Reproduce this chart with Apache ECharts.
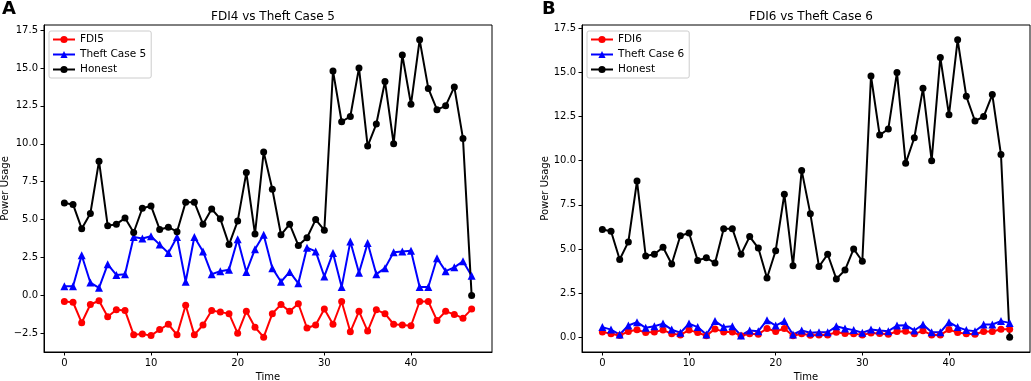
<!DOCTYPE html>
<html>
<head>
<meta charset="utf-8">
<title>FDI vs Theft Case</title>
<script src="https://cdn.jsdelivr.net/npm/echarts@6/dist/echarts.min.js"></script>
<style>
  html, body { margin: 0; padding: 0; background: #fff; }
  #chart { width: 1031px; height: 381px; }
</style>
</head>
<body>
<div id="chart"></div>
<script>
// time index 0..47
const timeSteps = [0, 1, 2, 3, 4, 5, 6, 7, 8, 9, 10, 11, 12, 13, 14, 15, 16, 17, 18, 19, 20, 21, 22, 23,
  24, 25, 26, 27, 28, 29, 30, 31, 32, 33, 34, 35, 36, 37, 38, 39, 40, 41, 42, 43, 44, 45, 46, 47]

// honest consumer (same in both panels)
const honest = [6.1, 6.0, 4.4, 5.4, 8.85, 4.6, 4.7, 5.1, 4.15, 5.75, 5.9, 4.35, 4.5, 4.2, 6.15, 6.15,
  4.7, 5.7, 5.05, 3.35, 4.9, 8.1, 4.05, 9.45, 7.0, 4.0, 4.7, 3.3, 3.8, 5.0, 4.3, 14.8,
  11.45, 11.8, 15.0, 9.85, 11.3, 14.1, 10.0, 15.85, 12.6, 16.85, 13.65, 12.25, 12.5, 13.75, 10.35, 0.0]

// panel A
const fdi5 = [-0.4, -0.45, -1.8, -0.6, -0.35, -1.4, -0.95, -1.0, -2.6, -2.55, -2.65, -2.25, -1.9, -2.6, -0.65, -2.6,
  -1.95, -1.0, -1.1, -1.2, -2.5, -1.05, -2.1, -2.75, -1.2, -0.6, -1.05, -0.55, -2.15, -1.95, -0.9, -1.9,
  -0.4, -2.4, -1.05, -2.35, -0.95, -1.2, -1.9, -1.95, -2.0, -0.4, -0.4, -1.65, -1.05, -1.25, -1.5, -0.9]
const theft5 = [0.6, 0.6, 2.65, 0.85, 0.5, 2.05, 1.35, 1.4, 3.85, 3.75, 3.9, 3.35, 2.8, 3.85, 0.9, 3.85,
  2.9, 1.4, 1.6, 1.7, 3.7, 1.55, 3.05, 4.0, 1.8, 0.9, 1.55, 0.8, 3.15, 2.9, 1.25, 2.8,
  0.55, 3.55, 1.5, 3.45, 1.4, 1.8, 2.85, 2.9, 2.95, 0.55, 0.55, 2.45, 1.6, 1.85, 2.25, 1.3]

// panel B
const fdi6 = [0.3, 0.19, 0.1, 0.32, 0.42, 0.26, 0.3, 0.4, 0.2, 0.13, 0.4, 0.26, 0.08, 0.47, 0.3, 0.3,
  0.08, 0.19, 0.17, 0.49, 0.32, 0.49, 0.08, 0.19, 0.11, 0.13, 0.13, 0.28, 0.21, 0.19, 0.13, 0.23,
  0.21, 0.17, 0.32, 0.34, 0.19, 0.36, 0.13, 0.13, 0.43, 0.26, 0.19, 0.17, 0.32, 0.32, 0.45, 0.45]
const theft6 = [0.57, 0.43, 0.15, 0.66, 0.85, 0.53, 0.62, 0.77, 0.43, 0.25, 0.77, 0.57, 0.15, 0.91, 0.57, 0.62,
  0.1, 0.38, 0.34, 0.96, 0.66, 0.91, 0.15, 0.38, 0.25, 0.28, 0.28, 0.62, 0.49, 0.4, 0.25, 0.43,
  0.38, 0.34, 0.66, 0.68, 0.38, 0.72, 0.28, 0.28, 0.85, 0.57, 0.4, 0.34, 0.72, 0.72, 0.91, 0.81]

// tick labels
const xTicks = [0, 10, 20, 30, 40]
const yTicksA = [-2.5, 0, 2.5, 5, 7.5, 10, 12.5, 15, 17.5]
const yTicksB = [0, 2.5, 5, 7.5, 10, 12.5, 15, 17.5]

const FONT = 'DejaVu Sans'
const chart = echarts.init(document.getElementById('chart'))

const pairs = (arr) => timeSteps.map((t, i) => [t, arr[i]])
const fmtY = (v) => v.toFixed(1).replace('-', '\u2212')

function xAxisFor (gridIndex) {
  return {
    type: 'value',
    gridIndex: gridIndex,
    min: -2.35,
    max: 49.35,
    name: 'Time',
    nameLocation: 'middle',
    nameGap: 25,
    nameMoveOverlap: false,
    nameTextStyle: { color: '#000', fontFamily: FONT, fontSize: 10, verticalAlign: 'middle' },
    axisLine: { show: true, onZero: false, lineStyle: { color: '#000', width: 1 } },
    axisTick: { show: true, length: 3.5, customValues: xTicks, lineStyle: { color: '#000' } },
    axisLabel: { customValues: xTicks, color: '#000', fontFamily: FONT, fontSize: 10, margin: 6 },
    splitLine: { show: false }
  }
}

function yAxisFor (gridIndex, min, max, ticks, gap) {
  return {
    type: 'value',
    gridIndex: gridIndex,
    min: min,
    max: max,
    name: 'Power Usage',
    nameLocation: 'middle',
    nameGap: gap,
    nameMoveOverlap: false,
    nameTextStyle: { color: '#000', fontFamily: FONT, fontSize: 10 },
    axisLine: { show: true, onZero: false, lineStyle: { color: '#000', width: 1 } },
    axisTick: { show: true, length: 3.5, customValues: ticks, lineStyle: { color: '#000' } },
    axisLabel: { customValues: ticks, color: '#000', fontFamily: FONT, fontSize: 10, margin: 6, formatter: fmtY },
    splitLine: { show: false }
  }
}

function lineSeries (name, data, color, symbol, idx) {
  return {
    name: name,
    type: 'line',
    xAxisIndex: idx,
    yAxisIndex: idx,
    data: pairs(data),
    symbol: symbol,
    symbolSize: symbol === 'triangle' ? 8 : 7,
    showAllSymbol: true,
    lineStyle: { color: color, width: 2 },
    itemStyle: { color: color },
    emphasis: { disabled: true },
    animation: false
  }
}

function legendFor (names, left) {
  return {
    data: names,
    orient: 'vertical',
    left: left,
    top: 31,
    itemWidth: 22,
    itemHeight: 9,
    itemGap: 4,
    padding: [3, 5, 3, 3],
    borderColor: '#cccccc',
    borderWidth: 1,
    borderRadius: 2,
    backgroundColor: 'rgba(255,255,255,0.8)',
    textStyle: { color: '#000', fontFamily: FONT, fontSize: 10.5 }
  }
}

const option = {
  backgroundColor: '#fff',
  animation: false,
  title: [
    { text: 'A', left: 2, top: 0, padding: 0, textStyle: { fontFamily: FONT, fontSize: 18, fontWeight: 'bold', color: '#000' } },
    { text: 'B', left: 542, top: 0, padding: 0, textStyle: { fontFamily: FONT, fontSize: 18, fontWeight: 'bold', color: '#000' } },
    { text: 'FDI4 vs Theft Case 5', left: 268, top: 6, textAlign: 'center', textStyle: { fontFamily: FONT, fontSize: 12, fontWeight: 'normal', color: '#000' } },
    { text: 'FDI6 vs Theft Case 6', left: 806, top: 6, textAlign: 'center', textStyle: { fontFamily: FONT, fontSize: 12, fontWeight: 'normal', color: '#000' } }
  ],
  grid: [
    { left: 44, top: 25, width: 448, height: 327, show: true, borderColor: '#000', borderWidth: 1, containLabel: false, outerBoundsMode: 'none' },
    { left: 582, top: 25, width: 448, height: 327, show: true, borderColor: '#000', borderWidth: 1, containLabel: false, outerBoundsMode: 'none' }
  ],
  legend: [
    legendFor(['FDI5', 'Theft Case 5', 'Honest'], 49),
    legendFor(['FDI6', 'Theft Case 6', 'Honest'], 587)
  ],
  xAxis: [xAxisFor(0), xAxisFor(1)],
  yAxis: [
    yAxisFor(0, -3.73, 17.83, yTicksA, 34),
    yAxisFor(1, -0.84, 17.69, yTicksB, 32)
  ],
  series: [
    lineSeries('FDI5', fdi5, '#ff0000', 'circle', 0),
    lineSeries('Theft Case 5', theft5, '#0000ff', 'triangle', 0),
    lineSeries('Honest', honest, '#000000', 'circle', 0),
    lineSeries('FDI6', fdi6, '#ff0000', 'circle', 1),
    lineSeries('Theft Case 6', theft6, '#0000ff', 'triangle', 1),
    lineSeries('Honest', honest, '#000000', 'circle', 1)
  ]
}

chart.setOption(option)
</script>
</body>
</html>
